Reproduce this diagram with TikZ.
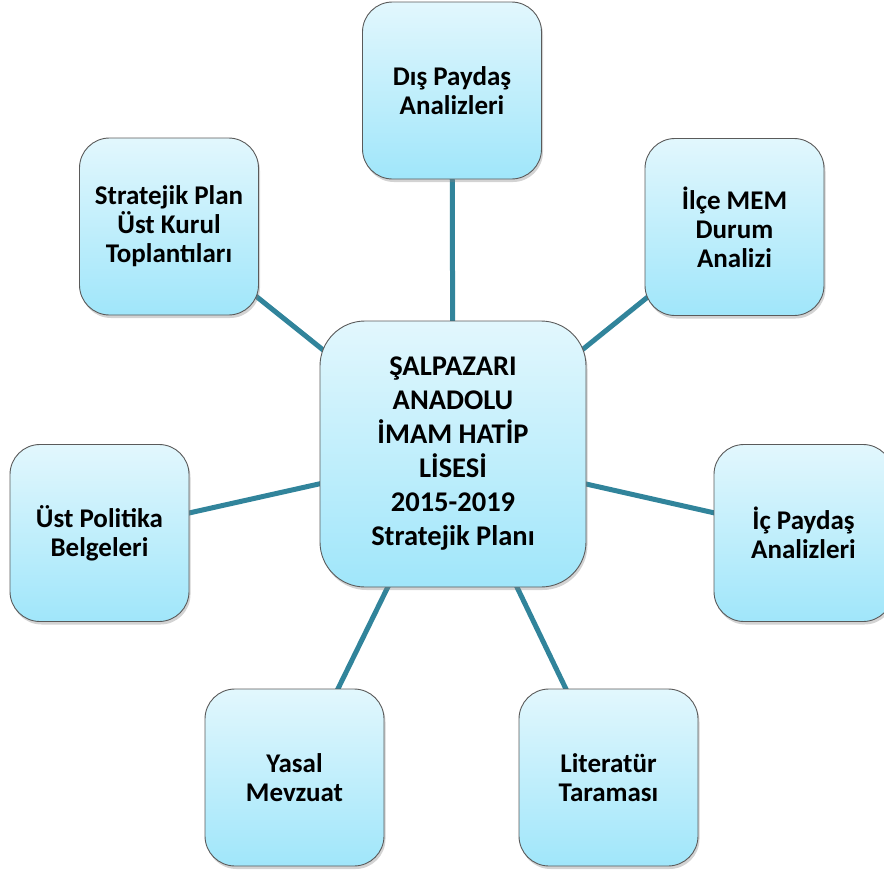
\documentclass[tikz,border=0pt]{standalone}
\usepackage{fontspec}
\setmainfont{Carlito}
\usetikzlibrary{shadows,backgrounds}
\definecolor{linkc}{RGB}{49,132,155}
\definecolor{boxtop}{RGB}{226,247,253}
\definecolor{boxbot}{RGB}{160,230,250}
\definecolor{boxedge}{RGB}{90,90,90}
\tikzset{
  box/.style={draw=boxedge, line width=0.9pt, rounded corners=30pt,
    top color=boxtop, bottom color=boxbot,
    minimum width=179pt, minimum height=177pt, inner sep=0pt,
    align=center, font=\fontsize{27}{29}\selectfont\bfseries,
    drop shadow={opacity=0.35, shadow xshift=1.5pt, shadow yshift=-3pt}},
  mainbox/.style={box, rounded corners=45pt, minimum width=266pt, minimum height=266pt,
    font=\fontsize{28.5}{34}\selectfont\bfseries},
  link/.style={draw=linkc, line width=5pt}
}
\begin{document}
\begin{tikzpicture}[x=1pt,y=-1pt]
\useasboundingbox (0,0) rectangle (884,870);
\clip (0,0) rectangle (884,870);
\node[mainbox] (main) at (453,454) {ŞALPAZARI\\ANADOLU\\İMAM HATİP\\LİSESİ\\2015-2019\\Stratejik Planı};
\node[box] (dis) at (452,90.5) {Dış Paydaş\\Analizleri};
\node[box] (ilce) at (734.5,227) {İlçe MEM\\Durum\\Analizi};
\node[box] (ic) at (803.5,533) {İç Paydaş\\Analizleri};
\node[box] (lit) at (608.5,777.5) {Literatür\\Taraması};
\node[box] (yasal) at (294.5,777.5) {Yasal\\Mevzuat};
\node[box] (ust) at (99.5,533) {Üst Politika\\Belgeleri};
\node[box] (strat) at (169,226.5) {Stratejik Plan\\Üst Kurul\\Toplantıları};
\begin{pgfonlayer}{background}
\foreach \n in {dis,ilce,ic,lit,yasal,ust,strat}
  \draw[link] (main.center) -- (\n.center);
\end{pgfonlayer}
\end{tikzpicture}
\end{document}
